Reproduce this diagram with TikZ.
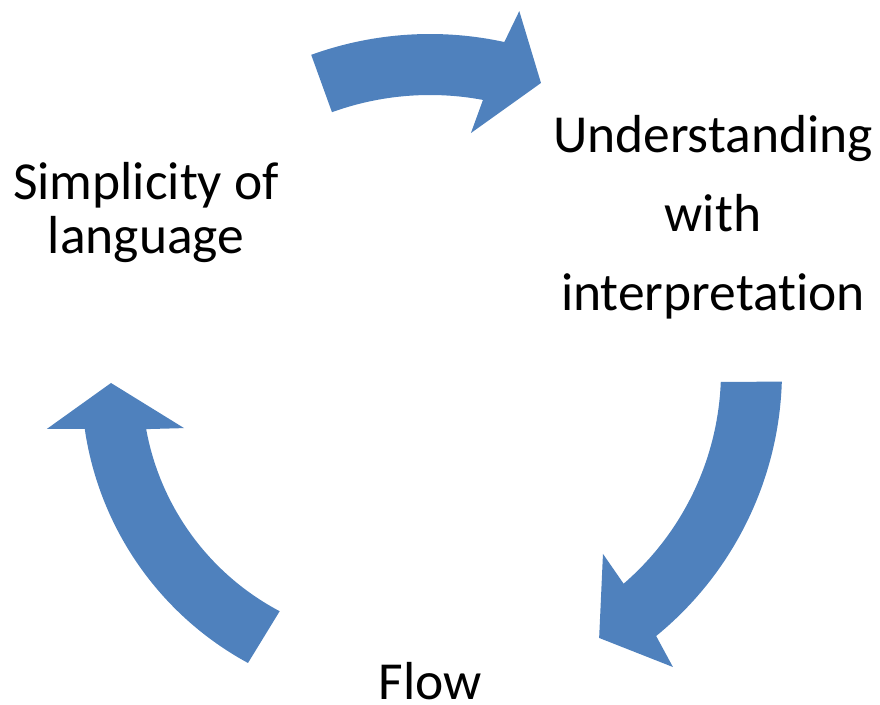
\documentclass[tikz,border=0pt]{standalone}
\usepackage{fontspec}
\setmainfont{Carlito}[Ligatures=NoCommon]
\definecolor{cycleblue}{HTML}{4F81BD}
\begin{document}
\begin{tikzpicture}[x=1pt,y=1pt,
  cyclearrow/.style={fill=cycleblue,draw=none},
  label/.style={anchor=base,inner sep=0pt,text=black}]
\useasboundingbox (0,0) rectangle (880,704);
% centres of the three curved arrows
\coordinate (c1) at (430,321);
\coordinate (c2) at (440,333);
\coordinate (c3) at (400,321);
% top arrow, pointing right
\path[cyclearrow,shift={(c1)}]
  (109.9:349) arc[start angle=109.9,end angle=77.7,radius=349pt]
  -- (76.5:382.5) -- (69.7:319.9) -- (80.7:253.3)
  -- (79.4:288) arc[start angle=79.4,end angle=109.9,radius=288pt] -- cycle;
% right arrow, pointing down
\path[cyclearrow,shift={(c2)}]
  (-1.8:342) arc[start angle=-1.8,end angle=-50.8,radius=342pt]
  -- (-51.8:376.7) -- (-59.2:310.8) -- (-48.3:245)
  -- (-49.2:281) arc[start angle=-49.2,end angle=-2.2,radius=281pt] -- cycle;
% left arrow, pointing up
\path[cyclearrow,shift={(c3)}]
  (241.5:318.6) arc[start angle=241.5,end angle=188.3,radius=318.6pt]
  -- (187.4:356) -- (180:289) -- (191.8:220.6)
  -- (190.3:258) arc[start angle=190.3,end angle=242.2,radius=258pt] -- cycle;
% labels
\node[label,font=\fontsize{53.5}{54}\selectfont] (simp) at (146,504)
  {\begin{tabular}[t]{@{}c@{}}Simplicity of\\ language\end{tabular}};
\node[label,font=\fontsize{53.5}{79}\selectfont] (under) at (713,551)
  {\begin{tabular}[t]{@{}c@{}}Understanding\\ with\\ interpretation\end{tabular}};
\node[label,font=\fontsize{53.5}{54}\selectfont] (flow) at (430.5,4.5) {Flow};
\end{tikzpicture}
\end{document}
